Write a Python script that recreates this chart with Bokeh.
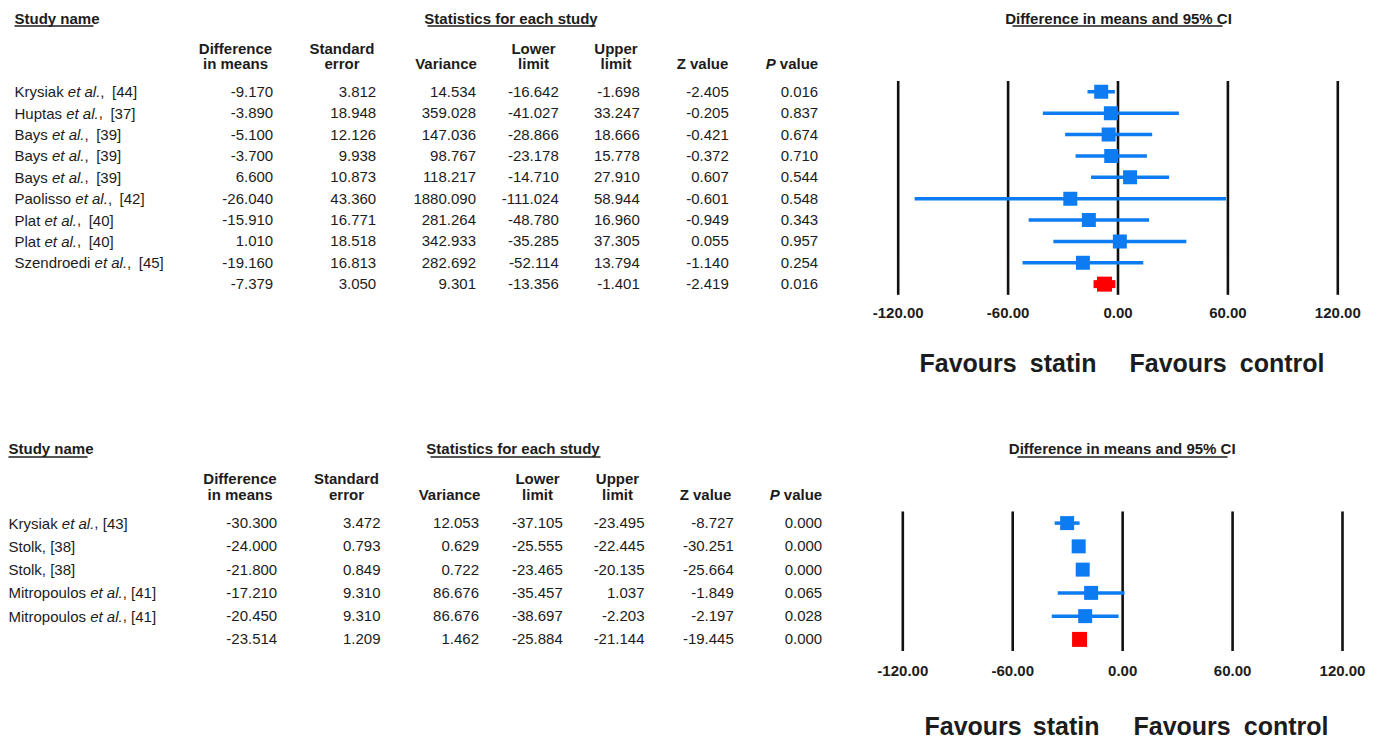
from bokeh.plotting import figure
from bokeh.models import Range1d
from bokeh.core.properties import value
from bokeh.embed import file_html
from bokeh.resources import INLINE

# ---------------- data ----------------
# Upper meta-analysis (last value in each numeric list is the pooled estimate)
a_authors = ["Krysiak", "Huptas", "Bays", "Bays", "Bays", "Paolisso", "Plat", "Plat", "Szendroedi"]
a_etal = [True, True, True, True, True, True, True, True, True]
a_refs = ["[44]", "[37]", "[39]", "[39]", "[39]", "[42]", "[40]", "[40]", "[45]"]
a_diff = [-9.170, -3.890, -5.100, -3.700, 6.600, -26.040, -15.910, 1.010, -19.160, -7.379]
a_se = [3.812, 18.948, 12.126, 9.938, 10.873, 43.360, 16.771, 18.518, 16.813, 3.050]
a_var = [14.534, 359.028, 147.036, 98.767, 118.217, 1880.090, 281.264, 342.933, 282.692, 9.301]
a_lower = [-16.642, -41.027, -28.866, -23.178, -14.710, -111.024, -48.780, -35.285, -52.114, -13.356]
a_upper = [-1.698, 33.247, 18.666, 15.778, 27.910, 58.944, 16.960, 37.305, 13.794, -1.401]
a_z = [-2.405, -0.205, -0.421, -0.372, 0.607, -0.601, -0.949, 0.055, -1.140, -2.419]
a_p = [0.016, 0.837, 0.674, 0.710, 0.544, 0.548, 0.343, 0.957, 0.254, 0.016]

# Lower meta-analysis
b_authors = ["Krysiak", "Stolk", "Stolk", "Mitropoulos", "Mitropoulos"]
b_etal = [True, False, False, True, True]
b_refs = ["[43]", "[38]", "[38]", "[41]", "[41]"]
b_diff = [-30.300, -24.000, -21.800, -17.210, -20.450, -23.514]
b_se = [3.472, 0.793, 0.849, 9.310, 9.310, 1.209]
b_var = [12.053, 0.629, 0.722, 86.676, 86.676, 1.462]
b_lower = [-37.105, -25.555, -23.465, -35.457, -38.697, -25.884]
b_upper = [-23.495, -22.445, -20.135, 1.037, -2.203, -21.144]
b_z = [-8.727, -30.251, -25.664, -1.849, -2.197, -19.445]
b_p = [0.000, 0.000, 0.000, 0.065, 0.028, 0.000]

axis_ticks = [-120, -60, 0, 60, 120]
head_line1 = ["Difference", "Standard", "", "Lower", "Upper", "", ""]
head_line2 = ["in means", "error", "Variance", "limit", "limit", "Z value", ""]
favour_words = (("Favours", "statin"), ("Favours", "control"))

# ---------------- styling ----------------
W, H = 1377, 740
FONT = value("Liberation Sans")
INK = "#1c1c1c"
BLUE = "#0d7cf2"
RED = "#ff0000"

# Arial / Liberation Sans advance widths (1/1000 em) for placing inline text runs
REG = {" ": 278, ",": 278, ".": 278, "[": 278, "]": 278,
       "K": 667, "H": 722, "B": 667, "P": 667, "S": 667, "M": 833,
       "a": 556, "c": 500, "d": 556, "e": 556, "i": 222, "k": 500, "l": 222,
       "n": 556, "o": 556, "p": 556, "r": 333, "s": 500, "t": 278, "u": 556,
       "y": 500, "z": 500}
BOLD = {" ": 278, "v": 556, "a": 556, "l": 278, "u": 611, "e": 556, "P": 667}


def text_width(s, size, table):
    return sum(table.get(ch, 556) for ch in s) * size / 1000.0


p = figure(width=W, height=H, output_backend="svg", toolbar_location=None,
           x_range=Range1d(0, W), y_range=Range1d(start=H, end=0),
           x_axis_location=None, y_axis_location=None,
           min_border=0, outline_line_color=None,
           background_fill_color="white", border_fill_color="white")
p.grid.visible = False

panels = [
    dict(key="a", authors=a_authors, etal=a_etal, refs=a_refs,
         cols=[a_diff, a_se, a_var, a_lower, a_upper, a_z, a_p],
         row0=91.3, step=21.37, name_x=14, ref_gap=7.5,
         col_right=[272.7, 375.7, 475.5, 558.3, 639.3, 728.3, 817.7],
         head_center=[235, 341.5, 445.5, 533, 615.5, 702, None],
         head_y=(47.5, 63.3), title_y=18, ul_y=25.5,
         study_ul=(14, 93), stats_center=510.5, stats_ul=(427, 595),
         forest_px=(897.7, 1337.3), ci_center=1118, ci_ul=(1012, 1222),
         tick_y=312, fav_y=362.5,
         fav_spans=((919, 1096), (1129, 1324))),
    dict(key="b", authors=b_authors, etal=b_etal, refs=b_refs,
         cols=[b_diff, b_se, b_var, b_lower, b_upper, b_z, b_p],
         row0=522.6, step=23.26, name_x=8, ref_gap=4.2,
         col_right=[276.7, 380, 478.5, 562.3, 644, 733.3, 821.7],
         head_center=[239.5, 346, 449, 537, 617, 705, None],
         head_y=(477.7, 494), title_y=448, ul_y=456.5,
         study_ul=(8, 87), stats_center=512.5, stats_ul=(430, 600),
         forest_px=(902.3, 1342), ci_center=1121.7, ci_ul=(1017, 1227),
         tick_y=670, fav_y=725.5,
         fav_spans=((924, 1099), (1133, 1328))),
]

# one row range and one effect-size range per panel, mapped onto the shared canvas
x_ranges, y_ranges = {}, {}
for L in panels:
    y_ranges[L["key"] + "_row"] = Range1d(start=(H - L["row0"]) / L["step"],
                                          end=-L["row0"] / L["step"])
    lo_px, hi_px = L["forest_px"]
    scale = (hi_px - lo_px) / (axis_ticks[-1] - axis_ticks[0])
    x_ranges[L["key"] + "_x"] = Range1d(start=axis_ticks[0] - lo_px / scale,
                                        end=axis_ticks[-1] + (W - hi_px) / scale)
p.extra_x_ranges = x_ranges
p.extra_y_ranges = y_ranges

txt = dict(text_font=FONT, text_color=INK, text_baseline="middle")

for L in panels:
    rn = L["key"] + "_row"
    xn = L["key"] + "_x"
    n = len(L["authors"])
    diff, lower, upper = L["cols"][0], L["cols"][3], L["cols"][4]
    rows = list(range(len(diff)))
    study_rows = rows[:n]

    # section titles with underlines
    bold = dict(txt, text_font_style="bold", text_font_size="15px")
    p.text(x=[L["name_x"]], y=[L["title_y"]], text=["Study name"], text_align="left", **bold)
    p.text(x=[L["stats_center"]], y=[L["title_y"]], text=["Statistics for each study"],
           text_align="center", **bold)
    p.text(x=[L["ci_center"]], y=[L["title_y"]], text=["Difference in means and 95% CI"],
           text_align="center", **bold)
    for x0, x1 in (L["study_ul"], L["stats_ul"], L["ci_ul"]):
        p.segment(x0=[x0], y0=[L["ul_y"]], x1=[x1], y1=[L["ul_y"]], line_color=INK, line_width=1.3)

    # column headers
    for c, x in enumerate(L["head_center"]):
        if x is None:
            continue
        if head_line1[c]:
            p.text(x=[x], y=[L["head_y"][0]], text=[head_line1[c]], text_align="center", **bold)
        p.text(x=[x], y=[L["head_y"][1]], text=[head_line2[c]], text_align="center", **bold)
    pr = L["col_right"][-1]
    p.text(x=[pr], y=[L["head_y"][1]], text=["value"], text_align="right", **bold)
    p.text(x=[pr - text_width(" value", 15, BOLD)], y=[L["head_y"][1]], text=["P"],
           text_align="right", text_font=FONT, text_color=INK, text_baseline="middle",
           text_font_style="bold italic", text_font_size="15px")

    # study names: author, italic "et al.", reference
    reg = dict(txt, text_font_size="15px")
    for i, (auth, etal, ref) in enumerate(zip(L["authors"], L["etal"], L["refs"])):
        x = L["name_x"]
        if etal:
            p.text(x=[x], y=[i], text=[auth], text_align="left", y_range_name=rn, **reg)
            x += text_width(auth + " ", 15, REG)
            p.text(x=[x], y=[i], text=["et al."], text_align="left", y_range_name=rn,
                   text_font_style="italic", **reg)
            x += text_width("et al.", 15, REG)
            p.text(x=[x], y=[i], text=[","], text_align="left", y_range_name=rn, **reg)
            x += text_width(",", 15, REG) + L["ref_gap"]
            p.text(x=[x], y=[i], text=[ref], text_align="left", y_range_name=rn, **reg)
        else:
            p.text(x=[x], y=[i], text=[auth + ", " + ref], text_align="left",
                   y_range_name=rn, **reg)

    # numeric columns
    for c, col in enumerate(L["cols"]):
        p.text(x=[L["col_right"][c]] * len(col), y=rows, text=["%.3f" % v for v in col],
               text_align="right", y_range_name=rn, **reg)

    # reference lines at the axis ticks
    p.segment(x0=axis_ticks, y0=[-0.5] * len(axis_ticks), x1=axis_ticks,
              y1=[len(diff) - 0.5] * len(axis_ticks), x_range_name=xn, y_range_name=rn,
              line_color="#111111", line_width=2.6)
    p.text(x=axis_ticks, y=[L["tick_y"]] * len(axis_ticks), text=["%.2f" % t for t in axis_ticks],
           text_align="center", x_range_name=xn, **bold)

    # study confidence intervals and point estimates
    p.segment(x0=lower[:n], y0=study_rows, x1=upper[:n], y1=study_rows,
              x_range_name=xn, y_range_name=rn, line_color=BLUE, line_width=3.5)
    p.scatter(x=diff[:n], y=study_rows, marker="square", size=14, x_range_name=xn,
              y_range_name=rn, fill_color=BLUE, line_color=BLUE, line_width=0)

    # pooled estimate
    p.segment(x0=[lower[n]], y0=[n], x1=[upper[n]], y1=[n], x_range_name=xn, y_range_name=rn,
              line_color=RED, line_width=8, line_cap="butt")
    p.scatter(x=[diff[n]], y=[n], marker="square", size=15, x_range_name=xn, y_range_name=rn,
              fill_color=RED, line_color=RED, line_width=0)

    # direction labels, each phrase spread over its span below the axis
    fav = dict(txt, text_font_style="bold", text_font_size="25px")
    for (first, second), (x0, x1) in zip(favour_words, L["fav_spans"]):
        p.text(x=[x0], y=[L["fav_y"]], text=[first], text_align="left", **fav)
        p.text(x=[x1], y=[L["fav_y"]], text=[second], text_align="right", **fav)

open("out.html", "w").write(file_html(p, INLINE))
